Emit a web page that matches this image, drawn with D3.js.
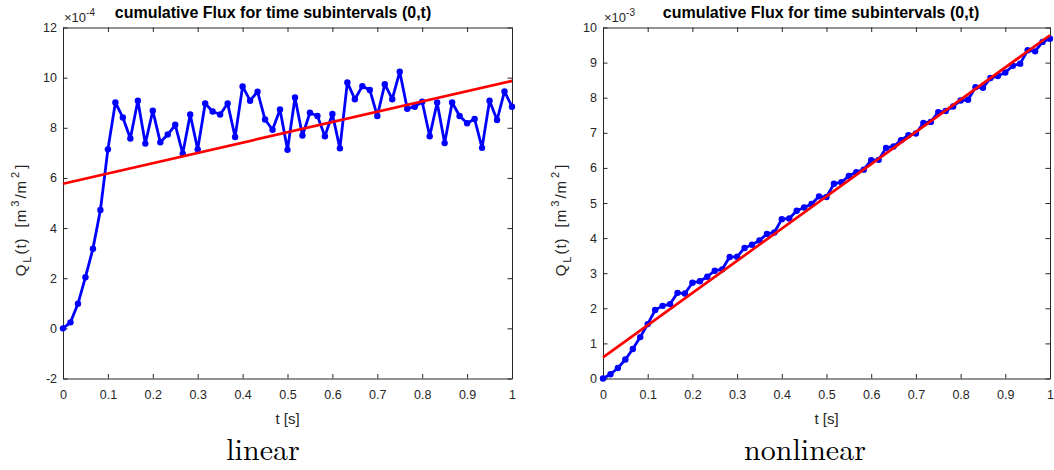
<!DOCTYPE html>
<html>
<head>
<meta charset="utf-8">
<script src="https://cdn.jsdelivr.net/npm/d3@7"></script>
<style>
  body { margin: 0; background: #fff; }
  svg text { font-family: "Liberation Sans", Arial, Helvetica, sans-serif; }
  .tick text { fill: #262626; font-size: 12.5px; }
  .tick line, .domain { stroke: #262626; }
</style>
</head>
<body>
<div id="chart"></div>
<script>
// DATA
var tValues = [0, 0.0167, 0.0333, 0.05, 0.0667, 0.0833, 0.1, 0.1167, 0.1333, 0.15,
  0.1667, 0.1833, 0.2, 0.2167, 0.2333, 0.25, 0.2667, 0.2833, 0.3, 0.3167,
  0.3333, 0.35, 0.3667, 0.3833, 0.4, 0.4167, 0.4333, 0.45, 0.4667, 0.4833,
  0.5, 0.5167, 0.5333, 0.55, 0.5667, 0.5833, 0.6, 0.6167, 0.6333, 0.65,
  0.6667, 0.6833, 0.7, 0.7167, 0.7333, 0.75, 0.7667, 0.7833, 0.8, 0.8167,
  0.8333, 0.85, 0.8667, 0.8833, 0.9, 0.9167, 0.9333, 0.95, 0.9667, 0.9833, 1];

// linear case, units of 1e-4
var linearFlux = [0, 0.24, 0.98, 2.04, 3.18, 4.72, 7.14, 9.01, 8.41, 7.57,
  9.08, 7.37, 8.68, 7.42, 7.73, 8.12, 6.97, 8.53, 7.14, 8.97,
  8.65, 8.53, 8.97, 7.63, 9.65, 9.08, 9.44, 8.33, 7.92, 8.73,
  7.12, 9.21, 7.69, 8.60, 8.47, 7.66, 8.55, 7.18, 9.81, 9.14,
  9.66, 9.51, 8.47, 9.74, 9.14, 10.24, 8.76, 8.84, 9.04, 7.66,
  9.01, 7.39, 9.01, 8.47, 8.18, 8.35, 7.20, 9.08, 8.31, 9.45, 8.84];

// nonlinear case, units of 1e-3
var nonlinearFlux = [0, 0.12, 0.30, 0.54, 0.84, 1.18, 1.55, 1.95, 2.07, 2.12,
  2.44, 2.42, 2.73, 2.77, 2.90, 3.07, 3.11, 3.46, 3.47, 3.72,
  3.81, 3.93, 4.12, 4.16, 4.54, 4.56, 4.78, 4.87, 4.97, 5.19,
  5.17, 5.55, 5.59, 5.77, 5.88, 5.95, 6.22, 6.23, 6.57, 6.61,
  6.79, 6.93, 6.98, 7.28, 7.31, 7.59, 7.62, 7.75, 7.92, 7.94,
  8.30, 8.28, 8.56, 8.62, 8.72, 8.91, 8.97, 9.35, 9.32, 9.59, 9.68];

// fitted lines, value at t=0 and t=1
var fitT = [0, 1];
var linearFit = [5.77, 9.87];
var nonlinearFit = [0.60, 9.78];

// TICKS
var xTicks = [0, 0.1, 0.2, 0.3, 0.4, 0.5, 0.6, 0.7, 0.8, 0.9, 1];
var xTickLabels = ["0", "0.1", "0.2", "0.3", "0.4", "0.5", "0.6", "0.7", "0.8", "0.9", "1"];
var linearYTicks = [-2, 0, 2, 4, 6, 8, 10, 12];
var linearYTickLabels = ["-2", "0", "2", "4", "6", "8", "10", "12"];
var nonlinearYTicks = [0, 1, 2, 3, 4, 5, 6, 7, 8, 9, 10];
var nonlinearYTickLabels = ["0", "1", "2", "3", "4", "5", "6", "7", "8", "9", "10"];

var titleText = "cumulative Flux for time subintervals (0,t)";

svg = d3.select("#chart").append("svg")
    .attr("width", 1054)
    .attr("height", 470);

function drawPanel(p) {
    var x = d3.scaleLinear().domain([0, 1]).range([p.left, p.right]);
    var y = d3.scaleLinear().domain(p.yDomain).range([378.5, 27.5]);
    var g = svg.append("g");
    var tick = 4.5;

    // AXES (box with inward ticks)
    g.append("g").attr("transform", "translate(0,378.5)")
        .call(d3.axisBottom(x).tickValues(xTicks).tickSize(-tick).tickSizeOuter(0).tickPadding(12)
            .tickFormat(function(d, i) { return xTickLabels[i]; }));
    g.append("g").attr("transform", "translate(0,27.5)")
        .call(d3.axisTop(x).tickValues(xTicks).tickSize(-tick).tickSizeOuter(0).tickFormat(""));
    g.append("g").attr("transform", "translate(" + p.left + ",0)")
        .call(d3.axisLeft(y).tickValues(p.yTicks).tickSize(-tick).tickSizeOuter(0).tickPadding(6)
            .tickFormat(function(d, i) { return p.yTickLabels[i]; }));
    g.append("g").attr("transform", "translate(" + p.right + ",0)")
        .call(d3.axisRight(y).tickValues(p.yTicks).tickSize(-tick).tickSizeOuter(0).tickFormat(""));
    g.selectAll(".tick text").style("font-family", null);

    // DATA LINE
    var pts = tValues.map(function(t, i) { return [t, p.values[i]]; });
    var line = d3.line().x(function(d) { return x(d[0]); }).y(function(d) { return y(d[1]); });
    g.append("path").datum(pts)
        .attr("d", line)
        .attr("fill", "none")
        .attr("stroke", "#0000ff")
        .attr("stroke-width", 2.8)
        .attr("stroke-linejoin", "round");
    g.selectAll(".pt").data(pts).enter().append("circle")
        .attr("cx", function(d) { return x(d[0]); })
        .attr("cy", function(d) { return y(d[1]); })
        .attr("r", 3.2)
        .attr("fill", "#0000ff");

    // FIT LINE
    g.append("path").datum(fitT.map(function(t, i) { return [t, p.fit[i]]; }))
        .attr("d", line)
        .attr("fill", "none")
        .attr("stroke", "#ff0000")
        .attr("stroke-width", 2.7);

    // EXPONENT LABEL
    var ex = g.append("text").attr("x", p.left + 1).attr("y", 22)
        .attr("fill", "#262626").attr("font-size", 13);
    ex.append("tspan").text("\u00d710");
    ex.append("tspan").attr("dy", -6).attr("font-size", 10).text(p.exponent);

    // TITLE
    g.append("text").attr("x", p.titleX).attr("y", 18)
        .attr("text-anchor", "middle")
        .attr("font-weight", "bold")
        .attr("font-size", 16)
        .text(titleText);

    // X LABEL
    g.append("text").attr("x", (p.left + p.right) / 2).attr("y", 424)
        .attr("text-anchor", "middle").attr("font-size", 15).attr("fill", "#262626")
        .text("t [s]");

    // Y LABEL
    var yl = g.append("text")
        .attr("transform", "translate(" + p.yLabelX + ",220) rotate(-90)")
        .attr("text-anchor", "middle").attr("font-size", 15).attr("fill", "#262626")
        .style("letter-spacing", "1px");
    yl.append("tspan").text("Q");
    yl.append("tspan").attr("dy", 5).attr("dx", 1).attr("font-size", 11).text("L");
    yl.append("tspan").attr("dy", -5).attr("dx", 1).text("(t)");
    yl.append("tspan").attr("dx", 10).text("[m");
    yl.append("tspan").attr("dy", -7).attr("dx", 2).attr("font-size", 11).text("3");
    yl.append("tspan").attr("dy", 7).attr("dx", 1).text("/m");
    yl.append("tspan").attr("dy", -7).attr("dx", 2).attr("font-size", 11).text("2");
    yl.append("tspan").attr("dy", 7).attr("dx", 2).text("]");

    // CAPTION
    g.append("text").attr("x", p.captionX).attr("y", 460)
        .attr("text-anchor", "middle")
        .style("font-family", "'Latin Modern Roman', 'Liberation Serif', 'DejaVu Serif', serif")
        .attr("font-size", 30)
        .text(p.caption);
}

drawPanel({left: 63, right: 512, yDomain: [-2, 12], yTicks: linearYTicks, yTickLabels: linearYTickLabels,
    values: linearFlux, fit: linearFit, exponent: "-4", titleX: 273, yLabelX: 26,
    caption: "linear", captionX: 263});
drawPanel({left: 603, right: 1050, yDomain: [0, 10], yTicks: nonlinearYTicks, yTickLabels: nonlinearYTickLabels,
    values: nonlinearFlux, fit: nonlinearFit, exponent: "-3", titleX: 821, yLabelX: 566,
    caption: "nonlinear", captionX: 805});
</script>
</body>
</html>
